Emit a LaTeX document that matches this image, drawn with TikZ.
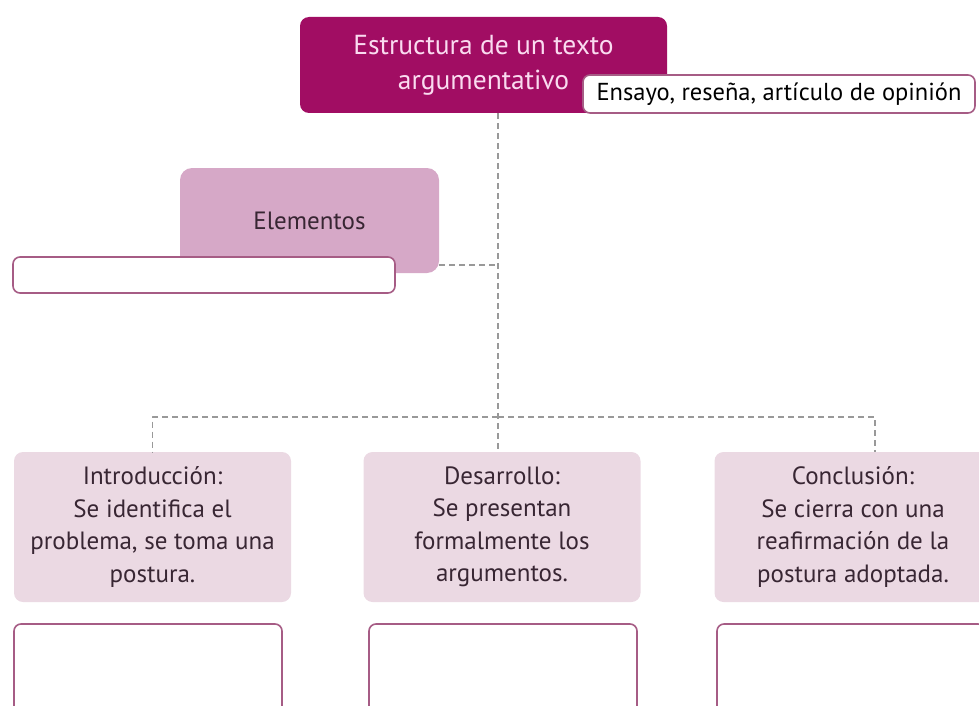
\documentclass[tikz,border=0pt]{standalone}
\usepackage{fontspec}
\setmainfont{PT Sans}
\definecolor{zzqqww}{rgb}{0.63,0.05,0.39}
\definecolor{ddaacc}{rgb}{0.84,0.66,0.78}
\definecolor{eeddee}{rgb}{0.92,0.85,0.89}
\definecolor{wwttzz}{rgb}{0.65,0.36,0.52}
\definecolor{ffddee}{rgb}{0.98,0.86,0.94}
\definecolor{ttqqtt}{rgb}{0.22,0.15,0.2}

\begin{document}
\begin{tikzpicture}[line cap=round,line join=round,x=1pt,y=-1pt,
    box/.style={rectangle,rounded corners=9pt,inner sep=0pt,align=center},
    blank/.style={box,draw=wwttzz,line width=1.6pt,fill=white,rounded corners=7pt},
    stage/.style={box,fill=eeddee,minimum width=277pt,minimum height=150pt,
        text=ttqqtt,font=\fontsize{25}{32.5}\selectfont},
    link/.style={color=black!40,line width=1.4pt,line cap=butt,dash pattern=on 6pt off 4pt}]
        \useasboundingbox (0,0) rectangle (979,706);
        % title and its examples
        \node[box,fill=zzqqww,text=ffddee,minimum width=367pt,minimum height=96pt,
            font=\fontsize{27.5}{35}\selectfont] (titulo) at (483.5,65) {Estructura de un texto\\argumentativo};
        \node[blank,minimum width=392pt,minimum height=38pt,text=black,
            font=\fontsize{24.5}{28}\selectfont] (tipos) at (779,94) {Ensayo, reseña, artículo de opinión};
        % elements
        \node[box,fill=ddaacc,minimum width=259pt,minimum height=105pt,rounded corners=12pt,
            text=ttqqtt,font=\fontsize{25}{30}\selectfont] (elem) at (309.5,220.5) {Elementos};
        \node[blank,minimum width=382pt,minimum height=36pt] (elemres) at (204,275) {};
        % three parts
        \node[stage] (intro) at (152.5,527) {Introducción:\\Se identifica el\\problema, se toma una\\postura.};
        \node[stage] (desa) at (502,527) {Desarrollo:\\Se presentan\\formalmente los\\argumentos.};
        \node[stage] (concl) at (853,527) {Conclusión:\\Se cierra con una\\reafirmación de la\\postura adoptada.};
        \node[blank,minimum width=268pt,minimum height=110pt] (introres) at (148,679) {};
        \node[blank,minimum width=268pt,minimum height=110pt] (desares) at (503,679) {};
        \node[blank,minimum width=268pt,minimum height=110pt] (conclres) at (851,679) {};
        % connectors
        \coordinate (codo) at (498,265);
        \coordinate (rama) at (498,417);
        \draw[link] (titulo.south -| codo) -- (codo) -- (rama) -- (rama |- desa.north);
        \draw[link] (elem.east |- codo) -- (codo);
        \draw[link] (rama) -| (intro.north);
        \draw[link] (rama) -| ([xshift=22pt]concl.north);
    \end{tikzpicture}
\end{document}
